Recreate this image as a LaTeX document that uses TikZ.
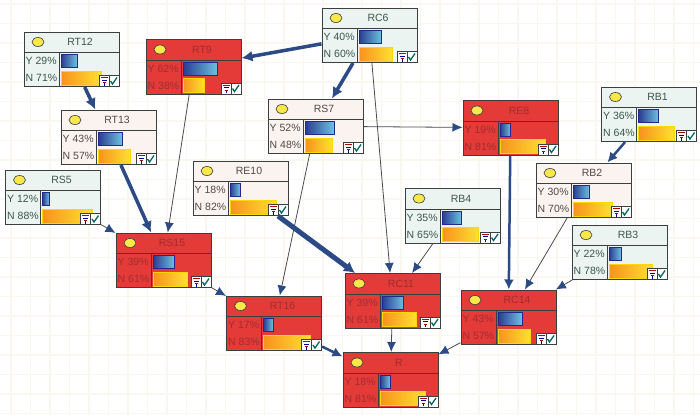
\documentclass[tikz,border=0pt]{standalone}
\usepackage{fontspec}
\setmainfont{Liberation Sans}
\usepackage{xcolor}
\usetikzlibrary{arrows.meta}

\definecolor{edgeblue}{HTML}{2B4A86}
\definecolor{framegray}{HTML}{3A3F40}
\definecolor{gridtan}{HTML}{FAF7F1}
\definecolor{greenbg}{HTML}{EBF4F0}
\definecolor{pinkbg}{HTML}{FAF3F0}
\definecolor{redbg}{HTML}{E43A38}
\definecolor{greentxt}{HTML}{3C5550}
\definecolor{pinktxt}{HTML}{504A48}
\definecolor{redtxt}{HTML}{9E2E30}
\definecolor{lampyellow}{HTML}{FAE84A}

\tikzset{
  bnbox/.style={draw=framegray, line width=1pt, minimum width=95pt, minimum height=54.5pt, inner sep=0pt},
  bntext/.style={font=\fontsize{10.5}{12}\selectfont, inner sep=0pt},
  ybar/.style={draw=blue!50!black!85, line width=0.7pt, left color={rgb,255:red,42;green,60;blue,145}, right color={rgb,255:red,110;green,195;blue,225}},
  nbar/.style={draw=yellow!75!orange, line width=0.4pt, left color={rgb,255:red,247;green,146;blue,30}, right color={rgb,255:red,255;green,224;blue,48}},
  thinedge/.style={draw=black!70, line width=0.8pt, -{Latex[length=10pt, width=9pt, color=edgeblue]}},
  midedge/.style={draw=edgeblue, line width=2.5pt, -{Latex[length=10pt, width=10pt]}},
  thickedge/.style={draw=edgeblue, line width=3.5pt, -{Latex[length=11pt, width=11pt]}},
  heavyedge/.style={draw=edgeblue, line width=5pt, -{Latex[length=11pt, width=12pt]}}
}

% name, left, top, label, Y, N, background, text colour
\newcommand{\bnnode}[8]{
  \begin{scope}[shift={(#2,#3)}]
    \node[bnbox, fill=#7] (#1) at (47.5,27.25) {};
    \draw[framegray, line width=0.8pt] (0,20.5) -- (95,20.5) (35,20.5) -- (35,54.5);
    \fill[lampyellow, draw=framegray, line width=0.6pt] (14,10) ellipse (6 and 4.5);
    \node[bntext, text=#8] (#1-lab) at (56,10) {#4};
    \node[bntext, text=#8, anchor=west] (#1-y) at (1.5,29) {Y #5\%};
    \node[bntext, text=#8, anchor=west] (#1-n) at (1.5,46) {N #6\%};
    \pgfmathsetmacro{\ywd}{0.56*#5}
    \pgfmathsetmacro{\nwd}{0.56*#6}
    \path[ybar] (37,22.5) rectangle ++(\ywd,13);
    \path[nbar] (37,39) rectangle ++(\nwd,14);
    % little buttons in the corner
    \fill[white] (75,43.5) rectangle (94.5,54);
    \fill[red!70!black] (76.5,45) rectangle (83.5,46.2);
    \fill[blue!60!black] (77.5,47.5) rectangle (82.5,48.7);
    \fill[red!70!black] (78.5,50) rectangle (81.5,51.2);
    \fill[blue!60!black] (79.5,51.2) rectangle (80.5,53.5);
    \draw[teal!80!black, line width=1.3pt] (86.5,49) -- (88.5,52) -- (93,45.5);
    \draw[framegray, line width=0.5pt] (85,43.5) -- (85,54) (75,54) -- (75,43.5) -- (95,43.5);
  \end{scope}
}

\begin{document}
\begin{tikzpicture}[x=1pt, y=-1pt]
  \useasboundingbox (0,0) rectangle (700,415);
  \fill[white] (0,0) rectangle (700,415);
  % faint grid of the canvas
  \foreach \i in {0,...,35}
    \draw[gridtan, line width=1.2pt] (11+19.5*\i,0) -- (11+19.5*\i,415);
  \foreach \i in {0,...,21}
    \draw[gridtan, line width=1.2pt] (0,4+19.5*\i) -- (700,4+19.5*\i);

  \bnnode{rttwelve}{24}{32}{RT12}{29}{71}{greenbg}{greentxt}
  \bnnode{rtnine}{146}{39.5}{RT9}{62}{38}{redbg}{redtxt}
  \bnnode{rcsix}{322}{8}{RC6}{40}{60}{greenbg}{greentxt}
  \bnnode{rtthirteen}{61}{110}{RT13}{43}{57}{pinkbg}{pinktxt}
  \bnnode{rsseven}{268}{99}{RS7}{52}{48}{pinkbg}{pinktxt}
  \bnnode{reeight}{463}{100.5}{RE8}{19}{81}{redbg}{redtxt}
  \bnnode{rbone}{601.5}{87}{RB1}{36}{64}{greenbg}{greentxt}
  \bnnode{reten}{193}{161}{RE10}{18}{82}{pinkbg}{pinktxt}
  \bnnode{rsfive}{5.5}{170}{RS5}{12}{88}{greenbg}{greentxt}
  \bnnode{rbtwo}{536}{163}{RB2}{30}{70}{pinkbg}{pinktxt}
  \bnnode{rbfour}{405}{188.5}{RB4}{35}{65}{greenbg}{greentxt}
  \bnnode{rsfifteen}{116}{233}{RS15}{39}{61}{redbg}{redtxt}
  \bnnode{rbthree}{572}{225}{RB3}{22}{78}{greenbg}{greentxt}
  \bnnode{rceleven}{345}{273.5}{RC11}{39}{61}{redbg}{redtxt}
  \bnnode{rcfourteen}{461}{290}{RC14}{43}{57}{redbg}{redtxt}
  \bnnode{rtsixteen}{226.5}{296}{RT16}{17}{83}{redbg}{redtxt}
  \bnnode{rfinal}{343}{352.5}{R}{18}{81}{redbg}{redtxt}

  \foreach \a/\b in {rtnine/rsfifteen, rcsix/rceleven, rsseven/reeight, rsseven/rtsixteen,
                     rsfive/rsfifteen, rsfifteen/rtsixteen, rbfour/rceleven, rbtwo/rcfourteen,
                     rbthree/rcfourteen, rceleven/rfinal, rcfourteen/rfinal}
    \draw[thinedge] (\a) -- (\b);
  \foreach \a/\b in {rbone/rbtwo, reeight/rcfourteen, rtsixteen/rfinal}
    \draw[midedge] (\a) -- (\b);
  \foreach \a/\b in {rttwelve/rtthirteen, rtthirteen/rsfifteen, rcsix/rtnine, rcsix/rsseven}
    \draw[thickedge] (\a) -- (\b);
  \draw[heavyedge] (reten) -- (rceleven);
\end{tikzpicture}
\end{document}
